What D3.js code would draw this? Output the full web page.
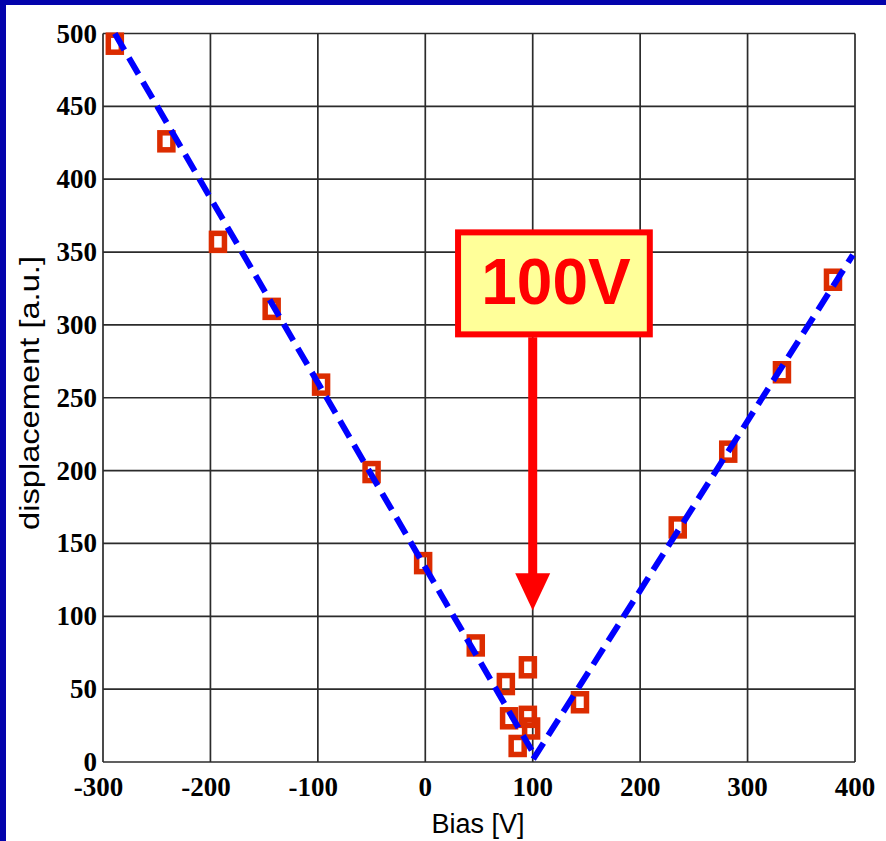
<!DOCTYPE html>
<html>
<head>
<style>
body { margin: 0; background: #ffffff; }
svg { display: block; }
.tick-label { font-family: "Liberation Serif", "Times New Roman", serif; font-weight: bold; font-size: 27px; fill: #000; }
.axis-title { font-family: "Liberation Sans", Arial, sans-serif; fill: #000; }
</style>
</head>
<body>
<svg id="chart" width="886" height="841"></svg>

<script src="https://cdn.jsdelivr.net/npm/d3@7"></script>
<script>
    // measured points: bias [V], displacement [a.u.]
    const bias = [-289, -241, -193, -143, -97, -50, -2, 47, 75, 78, 86, 95.5, 95.5, 98.5, 144, 235, 282, 332, 379.5];
    const displacement = [493, 426, 357, 311, 259, 199, 136.5, 80, 53.5, 30, 11, 65, 31, 23, 41, 161, 213, 267.5, 331];

    // the two dashed fit lines (end points)
    const fitLeft = [[-289, 500], [99, 8]];
    const fitRight = [[100.5, 2], [398, 348]];

    const xTicks = [-300, -200, -100, 0, 100, 200, 300, 400];
    const yTicks = [0, 50, 100, 150, 200, 250, 300, 350, 400, 450, 500];

    // annotation, in data units
    const note = {label: "100V", x: 100, boxX0: 30.5, boxX1: 209, boxY0: 293.5, boxY1: 363.5, headY: 129.5, tipY: 104};

    const width = 886, height = 841;
    const plot = {left: 103, right: 855, top: 33.5, bottom: 762};

    const svg = d3.select("#chart");
    const x = d3.scaleLinear().domain([-300, 400]).range([plot.left, plot.right]);
    const y = d3.scaleLinear().domain([0, 500]).range([plot.bottom, plot.top]);

    // blue frame of the slide
    svg.append("rect").attr("x", 0).attr("y", 0).attr("width", width).attr("height", 5).style("fill", "#0303ac");
    svg.append("rect").attr("x", 0).attr("y", 0).attr("width", 6).attr("height", height).style("fill", "#0303ac");

    // grid
    svg.append("g").selectAll("line.vgrid")
        .data(xTicks)
        .enter()
        .append("line")
        .attr("class", "vgrid")
        .attr("x1", d => x(d)).attr("x2", d => x(d))
        .attr("y1", plot.top).attr("y2", plot.bottom)
        .style("stroke", "#2b2b2b")
        .style("stroke-width", 1.7);

    svg.append("g").selectAll("line.hgrid")
        .data(yTicks)
        .enter()
        .append("line")
        .attr("class", "hgrid")
        .attr("x1", plot.left).attr("x2", plot.right)
        .attr("y1", d => y(d)).attr("y2", d => y(d))
        .style("stroke", "#2b2b2b")
        .style("stroke-width", 1.7);

    // tick labels
    svg.append("g").selectAll("text.ylab")
        .data(yTicks)
        .enter()
        .append("text")
        .attr("class", "tick-label")
        .attr("x", plot.left - 6)
        .attr("y", d => y(d) + 9)
        .attr("text-anchor", "end")
        .text(d => d);

    svg.append("g").selectAll("text.xlab")
        .data(xTicks)
        .enter()
        .append("text")
        .attr("class", "tick-label")
        .attr("x", d => x(d))
        .attr("dx", d => d < 0 ? -4.5 : 0)
        .attr("y", 796)
        .attr("text-anchor", "middle")
        .text(d => d);

    // axis titles
    svg.append("text")
        .attr("class", "axis-title")
        .attr("x", (plot.left + plot.right) / 2 - 1)
        .attr("y", 833)
        .attr("text-anchor", "middle")
        .attr("font-size", "27px")
        .text("Bias [V]");

    svg.append("text")
        .attr("class", "axis-title")
        .attr("transform", "translate(39," + 393 + ") rotate(-90)")
        .attr("text-anchor", "middle")
        .attr("font-size", "28px")
        .attr("textLength", 274)
        .attr("lengthAdjust", "spacingAndGlyphs")
        .text("displacement [a.u.]");

    // measured points: hollow squares
    const points = bias.map((b, i) => ({b: b, d: displacement[i]}));
    svg.append("g").selectAll("rect.pt")
        .data(points)
        .enter()
        .append("rect")
        .attr("class", "pt")
        .attr("x", d => x(d.b) - 6.5)
        .attr("y", d => y(d.d) - 8.5)
        .attr("width", 13)
        .attr("height", 17)
        .style("fill", "none")
        .style("stroke", "#dc2c00")
        .style("stroke-width", 5.5);

    // dashed fit lines
    const line = d3.line().x(d => x(d[0])).y(d => y(d[1]));
    svg.append("g").selectAll("path.fit")
        .data([fitLeft, fitRight])
        .enter()
        .append("path")
        .attr("class", "fit")
        .attr("d", line)
        .style("fill", "none")
        .style("stroke", "#0000ff")
        .style("stroke-width", 6)
        .style("stroke-dasharray", "19,9");

    // annotation box with arrow
    const ann = svg.append("g");
    ann.append("rect")
        .attr("x", x(note.boxX0))
        .attr("y", y(note.boxY1))
        .attr("width", x(note.boxX1) - x(note.boxX0))
        .attr("height", y(note.boxY0) - y(note.boxY1))
        .style("fill", "#ffff99")
        .style("stroke", "#ff0000")
        .style("stroke-width", 6);

    ann.append("text")
        .attr("x", (x(note.boxX0) + x(note.boxX1)) / 2 + 2)
        .attr("y", y(note.boxY0) - 30)
        .attr("text-anchor", "middle")
        .attr("font-family", "Liberation Sans, Arial, sans-serif")
        .attr("font-weight", "bold")
        .attr("font-size", "64px")
        .style("fill", "#ff0000")
        .text(note.label);

    ann.append("line")
        .attr("x1", x(note.x)).attr("x2", x(note.x))
        .attr("y1", y(note.boxY0) + 3)
        .attr("y2", y(note.headY) + 1)
        .style("stroke", "#ff0000")
        .style("stroke-width", 9);

    ann.append("path")
        .attr("d", "M" + (x(note.x) - 17.5) + "," + y(note.headY) +
                   "L" + (x(note.x) + 17.5) + "," + y(note.headY) +
                   "L" + x(note.x) + "," + y(note.tipY) + "Z")
        .style("fill", "#ff0000");
</script>
</body>
</html>
